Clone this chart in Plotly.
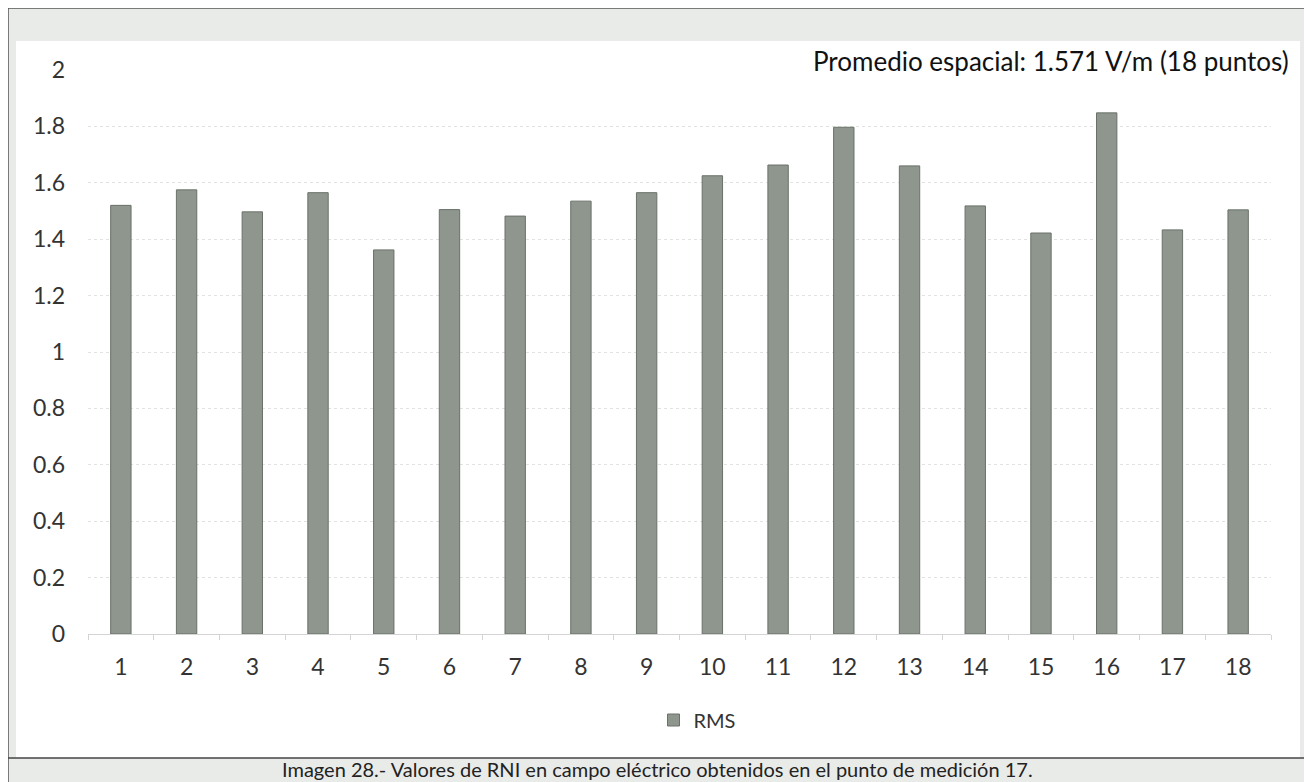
import plotly.graph_objects as go

categories = [str(i) for i in range(1, 19)]
rms_values = [1.52, 1.575, 1.497, 1.565, 1.362, 1.505, 1.482, 1.535, 1.565,
              1.625, 1.663, 1.797, 1.660, 1.518, 1.422, 1.848, 1.433, 1.504]
y_ticks = [0, 0.2, 0.4, 0.6, 0.8, 1, 1.2, 1.4, 1.6, 1.8, 2]
y_tick_labels = ["0", "0.2", "0.4", "0.6", "0.8", "1", "1.2", "1.4", "1.6", "1.8", "2"]
annotation_text = "Promedio espacial: 1.571 V/m (18 puntos)"
caption_text = "Imagen 28.- Valores de RNI en campo eléctrico obtenidos en el punto de medición 17."
series_name = "RMS"

# page has an 8px body margin; work in reference-pixel coordinates and shift
OFF = 8
W, H = 1312 - OFF, 782 - OFF
plot_left, plot_right, plot_top, plot_bottom = 88, 1271, 70, 634
L = plot_left - OFF
R = W - (plot_right - OFF)
T = plot_top - OFF
B = H - (plot_bottom - OFF)
pw, ph = W - L - R, H - T - B

def px(x):
    return (x - OFF - L) / pw

def py(y):
    return (H - B - (y - OFF)) / ph

FONT = "Lato"

fig = go.Figure()
fig.add_trace(go.Bar(
    x=categories, y=rms_values, name=series_name,
    marker=dict(color="#8e968e", line=dict(color="#6a716a", width=1)),
))

shapes = [
    dict(type="rect", xref="paper", yref="paper", x0=px(8), x1=px(1330), y0=py(8), y1=py(800),
         line=dict(color="#555", width=1.5), fillcolor="rgba(0,0,0,0)", layer="below"),
    dict(type="rect", xref="paper", yref="paper", x0=px(16), x1=px(1300), y0=py(41), y1=py(758),
         line=dict(width=0), fillcolor="white", layer="below"),
    dict(type="line", xref="paper", yref="paper", x0=px(8), x1=px(1312), y0=py(758), y1=py(758),
         line=dict(color="#444", width=1.5)),
]

annotations = [
    dict(text=annotation_text, xref="paper", yref="paper", x=px(1291), y=py(61),
         xanchor="right", yanchor="middle", showarrow=False,
         font=dict(family=FONT, size=26, color="#111")),
    dict(text=caption_text, xref="paper", yref="paper", x=px(657), y=py(769),
         xanchor="center", yanchor="middle", showarrow=False,
         font=dict(family=FONT, size=20, color="#222")),
]

fig.update_layout(
    width=W, height=H,
    margin=dict(l=L, r=R, t=T, b=B, pad=0),
    paper_bgcolor="#e9ebe9",
    plot_bgcolor="white",
    bargap=0.69,
    font=dict(family=FONT, size=23, color="#333"),
    showlegend=True,
    legend=dict(orientation="h", x=px(697), xanchor="center", y=py(720), yanchor="middle",
                font=dict(family=FONT, size=20, color="#333"), bgcolor="rgba(0,0,0,0)",
                itemwidth=30),
    shapes=shapes,
    annotations=annotations,
    xaxis=dict(showgrid=False, showline=True, linecolor="#d4d4d4", linewidth=1,
               ticks="outside", ticklen=5, tickcolor="#d4d4d4", tickson="boundaries",
               tickfont=dict(family=FONT, size=23, color="#333"), ticklabelstandoff=12),
    yaxis=dict(range=[0, 2], tickvals=y_ticks, ticktext=y_tick_labels,
               showgrid=True, gridcolor="#e2e2e2", gridwidth=1, griddash="dot",
               zeroline=False, showline=False, ticks="",
               tickfont=dict(family=FONT, size=23, color="#333"), ticklabelstandoff=22),
)

fig.write_html("out.html")
